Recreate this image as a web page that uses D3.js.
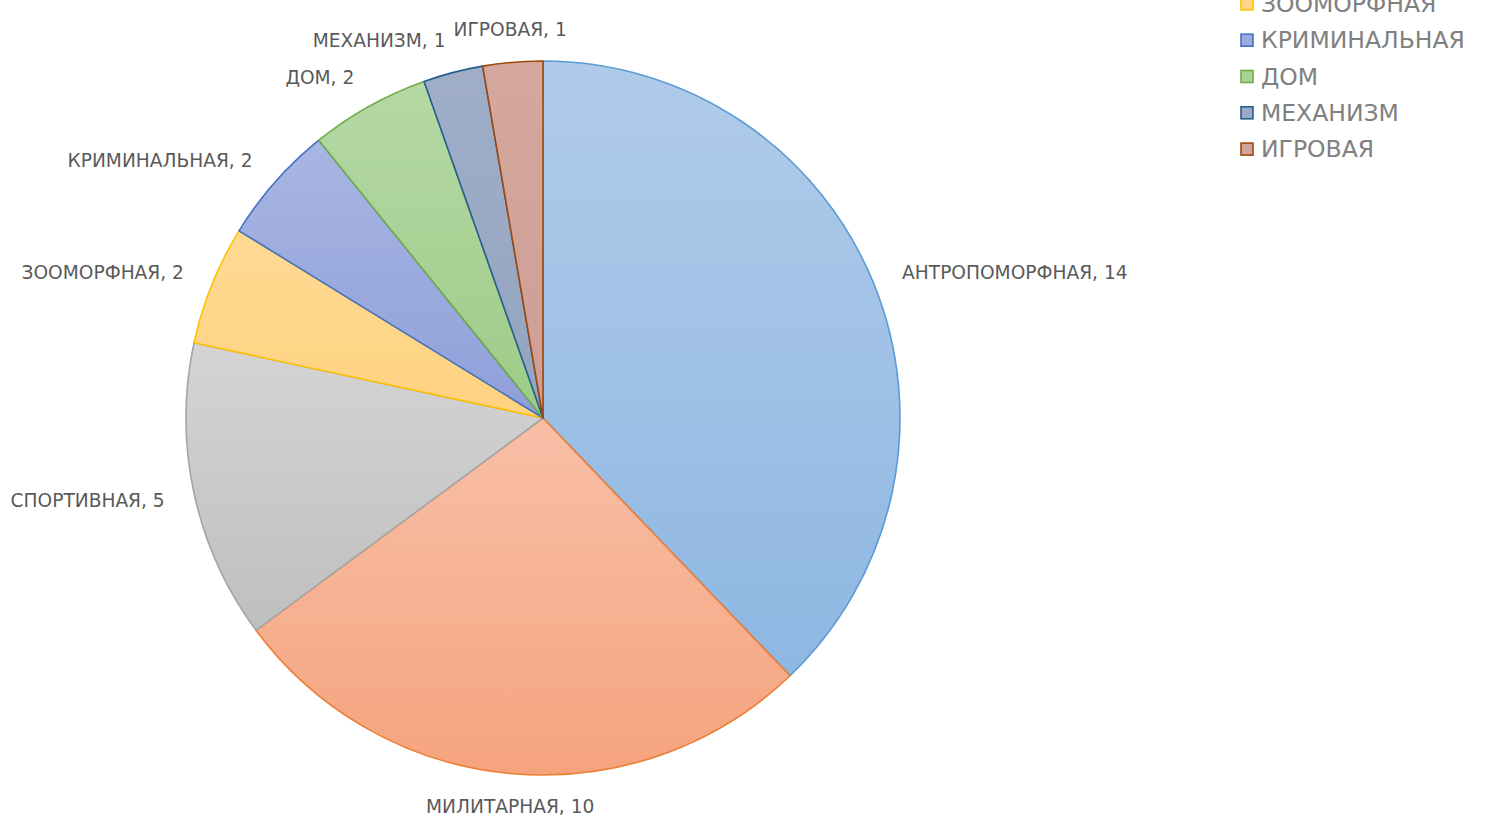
<!DOCTYPE html>
<html>
<head>
<meta charset="utf-8">
<script src="https://cdn.jsdelivr.net/npm/d3@7"></script>
<style>
	html, body { margin:0; padding:0; background:#fff; }
	svg { display:block; }
</style>
</head>
<body>
<div id="chart"></div>
<script>
// data
var categories  = ["АНТРОПОМОРФНАЯ", "МИЛИТАРНАЯ", "СПОРТИВНАЯ", "ЗООМОРФНАЯ", "КРИМИНАЛЬНАЯ", "ДОМ", "МЕХАНИЗМ", "ИГРОВАЯ"]
var values      = [14, 10, 5, 2, 2, 2, 1, 1]
var lineColors  = ["#5B9BD5", "#ED7D31", "#A5A5A5", "#FFC000", "#4472C4", "#70AD47", "#255E91", "#9E480E"]
var fillTop     = ["#B0CBE9", "#F8BFA8", "#D4D4D4", "#FFDA94", "#A7B6E2", "#B5D8A5", "#A0AEC8", "#D4A89E"]
var fillBottom  = ["#8EB7E2", "#F5A37D", "#BFBFBF", "#FFD280", "#909FD9", "#9ECB88", "#93A4C0", "#CE9E93"]

var W = 1510, H = 816
var CX = 543, CY = 418, R = 357
var LABEL_RX = 387, LABEL_RY = 381

var svg = d3.select("#chart").append("svg")
	.attr("width", W).attr("height", H)
	.style("font-family", "'DejaVu Sans', Verdana, sans-serif")

var defs = svg.append("defs")
categories.forEach(function(c, i) {
	var g = defs.append("linearGradient")
		.attr("id", "grad" + i)
		.attr("x1", 0).attr("x2", 0)
		.attr("y1", 0).attr("y2", 1)
	g.append("stop").attr("offset", "0").attr("stop-color", fillTop[i])
	g.append("stop").attr("offset", "1").attr("stop-color", fillBottom[i])
})

var pie = d3.pie().sort(null).value(function(d){ return d })
var arcs = pie(values)
var arc = d3.arc().innerRadius(0).outerRadius(R)

var g = svg.append("g").attr("transform", "translate(" + CX + "," + CY + ")")

g.selectAll("path.slice")
	.data(arcs)
	.enter()
	.append("path")
	.attr("class", "slice")
	.attr("d", arc)
	.style("fill", function(d, i){ return "url(#grad" + i + ")" })
	.style("stroke", function(d, i){ return lineColors[i] })
	.style("stroke-width", 1.6)
	.style("stroke-linejoin", "round")

// data labels, outside end
g.selectAll("text.lbl")
	.data(arcs)
	.enter()
	.append("text")
	.attr("class", "lbl")
	.text(function(d, i){ return categories[i] + ", " + values[i] })
	.attr("font-size", 18.6)
	.attr("fill", "#595959")
	.attr("dominant-baseline", "central")
	.each(function(d) {
		var a = (d.startAngle + d.endAngle) / 2
		var s = Math.sin(a), c = Math.cos(a)
		var px = LABEL_RX * s, py = -LABEL_RY * c
		var anchor = s > 0.2 ? "start" : (s < -0.2 ? "end" : "middle")
		d3.select(this)
			.attr("x", px)
			.attr("y", py - 9 * c)
			.attr("text-anchor", anchor)
	})

// legend (top items fall off the canvas, as in the picture)
var LEG_X = 1241, LEG_Y0 = -105, LEG_STEP = 36.3
var leg = svg.append("g").attr("class", "legend")
var item = leg.selectAll("g.item")
	.data(categories)
	.enter()
	.append("g")
	.attr("class", "item")
	.attr("transform", function(d, i){ return "translate(" + LEG_X + "," + (LEG_Y0 + i * LEG_STEP) + ")" })

item.append("rect")
	.attr("x", 0).attr("y", -6)
	.attr("width", 12).attr("height", 12)
	.style("fill", function(d, i){ return d3.interpolateRgb(fillTop[i], fillBottom[i])(0.5) })
	.style("stroke", function(d, i){ return lineColors[i] })
	.style("stroke-width", 1.6)

item.append("text")
	.attr("x", 20).attr("y", 0)
	.attr("dominant-baseline", "central")
	.attr("font-size", 23.5)
	.attr("fill", "#808080")
	.text(function(d){ return d })
</script>
</body>
</html>
